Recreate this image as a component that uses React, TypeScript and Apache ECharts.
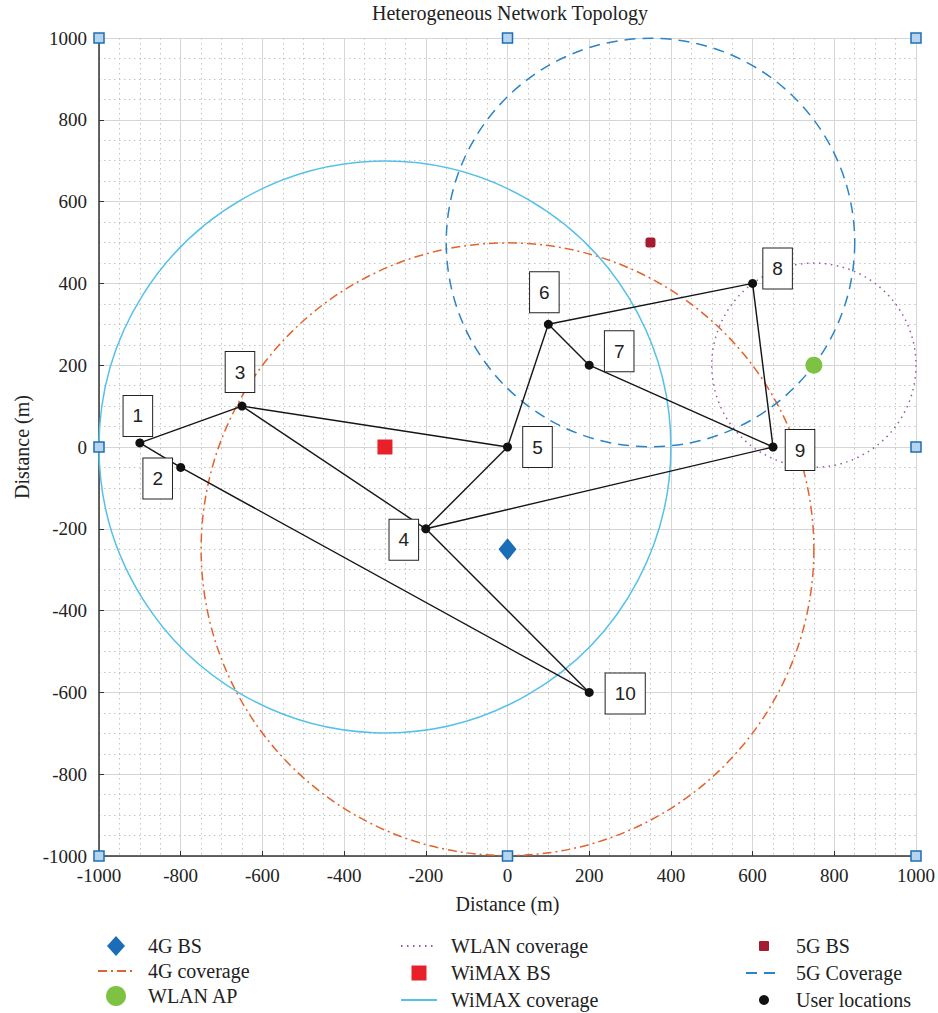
import React, { useEffect, useRef } from "react";
import * as echarts from "echarts";

// ---- data ----
const userIds = ["1", "2", "3", "4", "5", "6", "7", "8", "9", "10"];
const userX = [-900, -800, -650, -200, 0, 100, 200, 600, 650, 200];
const userY = [10, -50, 100, -200, 0, 300, 200, 400, 0, -600];
// links between user ids
const links = [
  [1, 3], [1, 2], [2, 10], [3, 5], [3, 4], [4, 5], [4, 9], [4, 10],
  [5, 6], [6, 7], [6, 8], [7, 9], [8, 9],
];

const bsNames = ["4G BS", "WiMAX BS", "WLAN AP", "5G BS"];
const bsX = [0, -300, 750, 350];
const bsY = [-250, 0, 200, 500];

const coverageNames = ["4G coverage", "WLAN coverage", "WiMAX coverage", "5G Coverage"];
const coverageX = [0, 750, -300, 350];
const coverageY = [-250, 200, 0, 500];
const coverageR = [750, 250, 700, 500];

const handleX = [-1000, 0, 1000, -1000, 1000, -1000, 0, 1000];
const handleY = [1000, 1000, 1000, 0, 0, -1000, -1000, -1000];

const axisMin = -1000;
const axisMax = 1000;
const axisStep = 200;

// ---- styles (kept separate from data) ----
const labelOffsets = [
  [-2, -27], [-23, 11], [-2, -34], [-22, 11], [30, 0],
  [-4, -32], [30, -14], [25, -15], [27, 3], [36, 1],
];
const bsStyle: Record<string, any> = {
  "4G BS": { symbol: "diamond", size: [18, 22], color: "#1b6db8", icon: "path://M9,0L18,10L9,20L0,10Z" },
  "WiMAX BS": { symbol: "rect", size: 15, color: "#e8202a", icon: "path://M0,0H10V10H0Z" },
  "WLAN AP": { symbol: "circle", size: 17, color: "#7dc242", icon: "circle" },
  "5G BS": { symbol: "roundRect", size: 10, color: "#a51b30", icon: "path://M1,0H9Q10,0,10,1V9Q10,10,9,10H1Q0,10,0,9V1Q0,0,1,0Z" },
};
const coverageStyle: Record<string, any> = {
  "4G coverage": { color: "#e4622c", dash: [9, 4, 2, 4], width: 1.5 },
  "WLAN coverage": { color: "#9a5aa6", dash: [1.5, 4.5], width: 1.5 },
  "WiMAX coverage": { color: "#55c1e9", dash: null, width: 1.5 },
  "5G Coverage": { color: "#2a84c6", dash: [11, 7], width: 1.5 },
};

const SERIF = "Liberation Serif";
const SANS = "Liberation Sans";

function buildOption() {
  const series: any[] = [];

  // link lines
  series.push({
    name: "links",
    type: "lines",
    coordinateSystem: "cartesian2d",
    silent: true,
    z: 3,
    lineStyle: { color: "#151515", width: 1.4, opacity: 1 },
    data: links.map(([a, b]) => ({
      coords: [
        [userX[a - 1], userY[a - 1]],
        [userX[b - 1], userY[b - 1]],
      ],
    })),
  });

  // coverage circles: legend stub (line) + custom circle
  coverageNames.forEach((name, i) => {
    const st = coverageStyle[name];
    series.push({
      name,
      type: "line",
      symbol: "none",
      data: [],
      lineStyle: { color: st.color, width: st.width, type: st.dash || "solid" },
      itemStyle: { color: st.color, opacity: 0 },
    });
    series.push({
      name,
      type: "custom",
      z: 2,
      silent: true,
      encode: { x: 0, y: 1 },
      data: [[coverageX[i], coverageY[i], coverageR[i]]],
      itemStyle: { color: st.color },
      renderItem: (params: any, api: any) => {
        const c = api.coord([api.value(0), api.value(1)]);
        const r = api.size([api.value(2), 0])[0];
        return {
          type: "circle",
          shape: { cx: c[0], cy: c[1], r },
          style: {
            fill: "none",
            stroke: st.color,
            lineWidth: st.width,
            lineDash: st.dash || null,
          },
        };
      },
    });
  });

  // base stations
  bsNames.forEach((name, i) => {
    const st = bsStyle[name];
    series.push({
      name,
      type: "scatter",
      z: 4,
      symbol: st.symbol,
      symbolSize: st.size,
      itemStyle: { color: st.color, opacity: 1 },
      data: [[bsX[i], bsY[i]]],
    });
  });

  // handles at corners
  series.push({
    name: "handles",
    type: "scatter",
    z: 6,
    symbol: "rect",
    symbolSize: 10,
    silent: true,
    itemStyle: { color: "#b7d4ef", borderColor: "#1f6db3", borderWidth: 1.5, opacity: 1 },
    data: handleX.map((x, i) => [x, handleY[i]]),
  });

  // user locations
  series.push({
    name: "User locations",
    type: "scatter",
    z: 5,
    symbol: "circle",
    symbolSize: 9,
    itemStyle: { color: "#111", opacity: 1 },
    label: {
      show: true,
      position: "inside",
      formatter: (p: any) => userIds[p.dataIndex],
      fontFamily: SANS,
      fontSize: 19,
      color: "#222",
      backgroundColor: "#fff",
      borderColor: "#222",
      borderWidth: 1,
      padding: [11, 9, 10, 9],
    },
    data: userX.map((x, i) => ({
      value: [x, userY[i]],
      label: { offset: labelOffsets[i] },
    })),
  });

  const axisLabel = {
    fontFamily: SERIF,
    fontSize: 19,
    color: "#222",
    formatter: (v: number) => "{t|" + String(v) + "}",
    rich: { t: { fontFamily: SERIF, fontSize: 19, color: "#222" } },
  };

  const axisCommon = {
    type: "value",
    min: axisMin,
    max: axisMax,
    interval: axisStep,
    nameLocation: "middle",
    name: "Distance (m)",
    nameTextStyle: { fontFamily: SERIF, fontSize: 20, color: "#222" },
    axisLine: { show: true, onZero: false, lineStyle: { color: "#333", width: 1.5 } },
    axisTick: { show: true, inside: true, length: 5, lineStyle: { color: "#333" } },
    splitLine: { show: true, lineStyle: { color: "#d6d6d6", width: 1 } },
    minorTick: { show: false, splitNumber: 4 },
    minorSplitLine: { show: true, lineStyle: { color: "#c4c4c4", width: 1, type: [1.5, 3.5] } },
  };

  const legendCommon = {
    orient: "vertical",
    top: 935,
    padding: 0,
    itemWidth: 36,
    itemGap: 5,
    selectedMode: false,
    textStyle: {
      fontFamily: SERIF,
      fontSize: 20,
      color: "#222",
      lineHeight: 22,
      padding: [0, 0, 0, 9],
    },
  };

  const legendItem = (name: string) =>
    bsStyle[name] ? { name, icon: bsStyle[name].icon } : { name };

  return {
    animation: false,
    backgroundColor: "#fff",
    textStyle: { fontFamily: SERIF },
    title: {
      text: "Heterogeneous Network Topology",
      left: 510,
      textAlign: "center",
      top: 3,
      padding: 0,
      textStyle: { fontFamily: SERIF, fontSize: 20, fontWeight: "normal", color: "#222" },
    },
    grid: { left: 99, right: 22, top: 38, bottom: 157, containLabel: false },
    xAxis: { ...axisCommon, nameGap: 38, axisLabel: { ...axisLabel, margin: 10 } },
    yAxis: { ...axisCommon, nameGap: 67, axisLabel: { ...axisLabel, margin: 12 } },
    legend: [
      { ...legendCommon, left: 97, itemHeight: 20, itemGap: 3, data: ["4G BS", "4G coverage", "WLAN AP"].map(legendItem) },
      { ...legendCommon, left: 400, itemHeight: 15, data: ["WLAN coverage", "WiMAX BS", "WiMAX coverage"].map(legendItem) },
      { ...legendCommon, left: 745, itemHeight: 10, data: ["5G BS", "5G Coverage", "User locations"].map(legendItem) },
    ],
    series,
  };
}

export default function App() {
  const ref = useRef<HTMLDivElement>(null);
  useEffect(() => {
    if (!ref.current) return;
    const chart = echarts.init(ref.current, undefined, { renderer: "svg" });
    chart.setOption(buildOption() as any);
    return () => chart.dispose();
  }, []);
  return (
    <div
      ref={ref}
      style={{ position: "fixed", left: 0, top: 0, width: 938, height: 1013, background: "#fff" }}
    />
  );
}
